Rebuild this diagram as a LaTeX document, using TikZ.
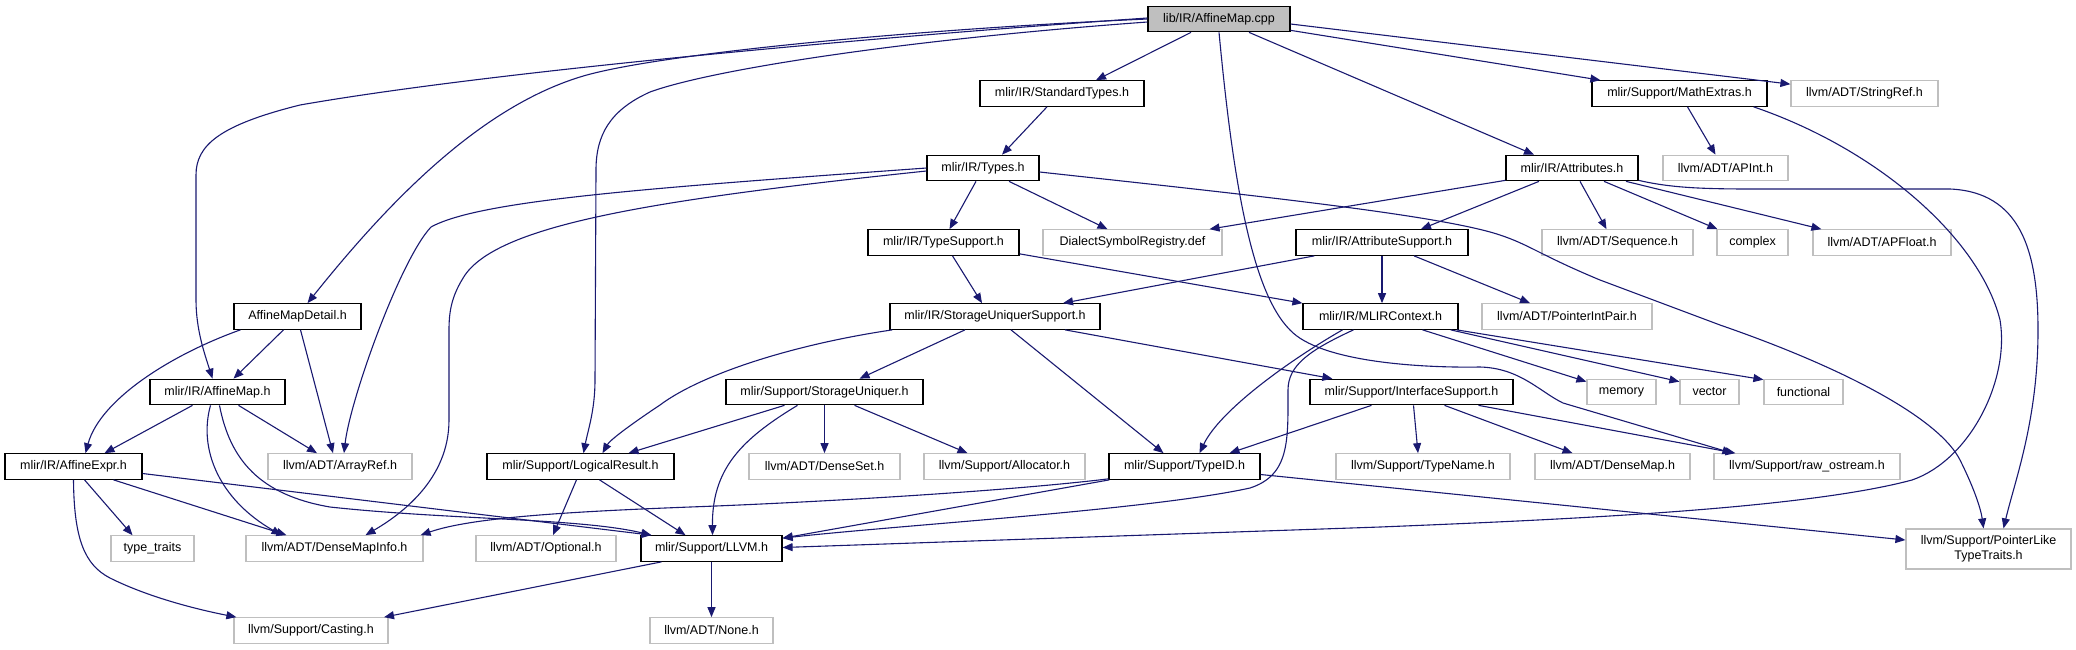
\documentclass[tikz,border=0pt]{standalone}
\usepackage{fontspec}
\setmainfont{Liberation Sans}
\usetikzlibrary{arrows.meta}
\definecolor{edgeblue}{RGB}{25,25,112}
\definecolor{boxgray}{RGB}{191,191,191}

\begin{document}
\begin{tikzpicture}[x=1pt,y=-1pt,
  file/.style={font=\fontsize{12.5}{15}\selectfont,inner sep=0pt,minimum height=25.5pt,line width=1.2pt,fill=white},
  hfile/.style={file,draw=black},
  extfile/.style={file,draw=boxgray},
  rootfile/.style={file,draw=black,fill=boxgray},
  dep/.style={edgeblue,line width=1.1pt,-{Triangle[length=10pt,width=8pt]}}]
  \useasboundingbox (0,0) rectangle (2076,649);

  % upper rows
  \node[rootfile,minimum width=142pt] (root) at (1219,19) {lib/IR/AffineMap.cpp};
  \node[hfile,minimum width=164pt] (stdtypes) at (1062,93.5) {mlir/IR/StandardTypes.h};
  \node[hfile,minimum width=175pt] (mathx) at (1679.5,93.5) {mlir/Support/MathExtras.h};
  \node[extfile,minimum width=147pt] (strref) at (1864.5,93.5) {llvm/ADT/StringRef.h};
  \node[hfile,minimum width=112pt] (types) at (983,168) {mlir/IR/Types.h};
  \node[hfile,minimum width=132pt] (attrs) at (1572,168) {mlir/IR/Attributes.h};
  \node[extfile,minimum width=125pt] (apint) at (1725.5,168) {llvm/ADT/APInt.h};
  \node[hfile,minimum width=151pt] (typesupp) at (943.5,242.5) {mlir/IR/TypeSupport.h};
  \node[extfile,minimum width=179pt] (dsr) at (1132.5,242.5) {DialectSymbolRegistry.def};
  \node[hfile,minimum width=172pt] (attrsupp) at (1382,242.5) {mlir/IR/AttributeSupport.h};
  \node[extfile,minimum width=151pt] (seq) at (1617.5,242.5) {llvm/ADT/Sequence.h};
  \node[extfile,minimum width=71pt] (complex) at (1752.5,242.5) {complex};
  \node[extfile,minimum width=138pt] (apfloat) at (1882,242.5) {llvm/ADT/APFloat.h};
  \node[hfile,minimum width=127pt] (amdetail) at (297.5,316.5) {AffineMapDetail.h};
  \node[hfile,minimum width=210pt] (sus) at (995,316.5) {mlir/IR/StorageUniquerSupport.h};
  \node[hfile,minimum width=155pt] (ctx) at (1380.5,316.5) {mlir/IR/MLIRContext.h};
  \node[extfile,minimum width=170pt] (pip) at (1567,316.5) {llvm/ADT/PointerIntPair.h};

  % lower rows
  \node[hfile,minimum width=135pt] (affmap) at (217.5,392) {mlir/IR/AffineMap.h};
  \node[hfile,minimum width=197pt] (su) at (824.5,392) {mlir/Support/StorageUniquer.h};
  \node[hfile,minimum width=203pt] (intf) at (1411.5,392) {mlir/Support/InterfaceSupport.h};
  \node[extfile,minimum width=69pt] (memory) at (1621.5,392) {memory};
  \node[extfile,minimum width=59pt] (vector) at (1709.5,392) {vector};
  \node[extfile,minimum width=79pt] (functional) at (1803.5,392) {functional};
  \node[hfile,minimum width=137pt] (affexpr) at (73.5,466.5) {mlir/IR/AffineExpr.h};
  \node[extfile,minimum width=144pt] (arrayref) at (340,466.5) {llvm/ADT/ArrayRef.h};
  \node[hfile,minimum width=187pt] (logres) at (580.5,466.5) {mlir/Support/LogicalResult.h};
  \node[extfile,minimum width=151pt] (denseset) at (824.5,466.5) {llvm/ADT/DenseSet.h};
  \node[extfile,minimum width=161pt] (alloc) at (1004.5,466.5) {llvm/Support/Allocator.h};
  \node[hfile,minimum width=151pt] (typeid) at (1184.5,466.5) {mlir/Support/TypeID.h};
  \node[extfile,minimum width=174pt] (typename) at (1423,466.5) {llvm/Support/TypeName.h};
  \node[extfile,minimum width=155pt] (densemap) at (1612.5,466.5) {llvm/ADT/DenseMap.h};
  \node[extfile,minimum width=186pt] (rawos) at (1807,466.5) {llvm/Support/raw\_ostream.h};
  \node[extfile,minimum width=83pt] (typetraits) at (152.5,548.5) {type\_traits};
  \node[extfile,minimum width=177pt] (dmi) at (334.5,548.5) {llvm/ADT/DenseMapInfo.h};
  \node[extfile,minimum width=140pt] (optional) at (546,548.5) {llvm/ADT/Optional.h};
  \node[hfile,minimum width=141pt] (llvmh) at (711.5,548.5) {mlir/Support/LLVM.h};
  \node[extfile,minimum width=165pt,minimum height=40pt,align=center] (pltt) at (1988.5,549) {llvm/Support/PointerLike\\TypeTraits.h};
  \node[extfile,minimum width=154pt] (casting) at (311,630.5) {llvm/Support/Casting.h};
  \node[extfile,minimum width=123pt] (none) at (711.5,630.5) {llvm/ADT/None.h};

  % includes of the .cpp file
  \draw[dep] ([xshift=-28pt]root.south) -- ([xshift=34pt]stdtypes.north);
  \draw[dep] ([yshift=2pt]root.south east) -- ([xshift=9pt]mathx.north west);
  \draw[dep] ([yshift=-5pt]root.east) -- ([yshift=-4pt]strref.north west);
  \draw[dep] ([xshift=30pt]root.south) -- ([xshift=-38pt]attrs.north);
  \draw[dep] (root.south) .. controls (1232,170) and (1250,290) .. (1290,330)
    .. controls (1320,362) and (1420,368) .. (1480,367)
    .. controls (1520,368) and (1540,392) .. (1563,403) -- ([xshift=19pt]rawos.north west);
  \draw[dep] ([yshift=1pt]root.west) .. controls (900,35) and (500,70) .. (300,105)
    .. controls (220,125) and (196,145) .. (196,175) -- (196,300)
    .. controls (196,330) and (205,355) .. ([xshift=-5pt]affmap.north);
  \draw[dep] (root.west) .. controls (900,30) and (650,55) .. (580,77)
    .. controls (480,108) and (390,200) .. ([xshift=10pt]amdetail.north);
  \draw[dep] ([yshift=-3pt]root.west) .. controls (900,40) and (710,70) .. (650,92)
    .. controls (610,110) and (596,135) .. (596,170) -- (595,380)
    .. controls (595,410) and (588,430) .. ([xshift=3pt]logres.north);

  % mlir/IR headers
  \draw[dep] ([xshift=-15pt]stdtypes.south) -- ([xshift=19pt]types.north);
  \draw[dep] ([xshift=-7pt]types.south) -- ([xshift=6pt]typesupp.north);
  \draw[dep] ([xshift=26pt]types.south) -- ([xshift=-25pt]dsr.north);
  \draw[dep] (types.west) .. controls (650,188) and (480,200) .. (431,227)
    .. controls (400,260) and (350,400) .. ([xshift=4pt]arrayref.north);
  \draw[dep] ([yshift=-3pt]types.west) .. controls (650,200) and (500,225) .. (465,275)
    .. controls (452,295) and (449,310) .. (449,330) -- (449,420)
    .. controls (449,480) and (400,515) .. ([xshift=31pt]dmi.north);
  \draw[dep] ([yshift=-4pt]types.east) .. controls (1250,195) and (1440,215) .. (1500,235)
    .. controls (1530,245) and (1540,255) .. (1600,280) -- (1720,325)
    .. controls (1850,370) and (1940,420) .. (1960,460)
    .. controls (1975,490) and (1981,510) .. ([xshift=-5pt]pltt.north);
  \draw[dep] ([yshift=1pt]attrs.south west) -- ([xshift=77pt]dsr.north);
  \draw[dep] ([xshift=-33pt]attrs.south) -- ([xshift=39pt]attrsupp.north);
  \draw[dep] ([xshift=8pt]attrs.south) -- ([xshift=-11pt]seq.north);
  \draw[dep] ([xshift=32pt]attrs.south) -- ([xshift=1pt]complex.north west);
  \draw[dep] ([xshift=54pt]attrs.south) -- ([xshift=9pt]apfloat.north west);
  \draw[dep] ([yshift=1pt]attrs.south east) .. controls (1680,190) and (1720,189) .. (1800,189) -- (1950,189)
    .. controls (2020,192) and (2038,250) .. (2038,330)
    .. controls (2038,420) and (2015,480) .. ([xshift=15pt]pltt.north);
  \draw[dep] ([xshift=8pt]mathx.south) -- ([xshift=-10pt]apint.north);
  \draw[dep] ([xshift=-14pt]mathx.south east) .. controls (1880,150) and (1980,240) .. (2000,320)
    .. controls (2010,380) and (1970,460) .. (1912,480)
    .. controls (1800,510) and (1550,520) .. (1380,527) -- ([yshift=1pt]llvmh.east);
  \draw[dep] ([xshift=19pt]attrsupp.south west) -- ([xshift=68pt]sus.north);
  \draw[dep] (attrsupp.south) -- ([xshift=1.5pt]ctx.north);
  \draw[dep] ([xshift=32pt]attrsupp.south) -- ([xshift=-37pt]pip.north);
  \draw[dep] ([xshift=9pt]typesupp.south) -- ([xshift=-13pt]sus.north);
  \draw[dep] ([yshift=2pt]typesupp.south east) -- (ctx.north west);

  % storage and context
  \draw[dep] ([xshift=3pt]sus.south west) .. controls (790,345) and (700,375) .. (660,405)
    .. controls (630,425) and (610,440) .. ([xshift=22pt]logres.north);
  \draw[dep] ([xshift=-30pt]sus.south) -- ([xshift=35pt]su.north);
  \draw[dep] ([xshift=16pt]sus.south) -- ([xshift=-21pt]typeid.north);
  \draw[dep] ([xshift=70pt]sus.south) -- ([xshift=23pt]intf.north west);
  \draw[dep] ([xshift=-38pt]ctx.south) .. controls (1290,360) and (1220,410) .. ([xshift=15pt]typeid.north);
  \draw[dep] ([xshift=-27pt]ctx.south) .. controls (1310,350) and (1288,365) .. (1288,390)
    .. controls (1288,440) and (1290,475) .. (1250,488)
    .. controls (1150,510) and (900,525) .. ([yshift=-3pt]llvmh.north east);
  \draw[dep] ([xshift=42pt]ctx.south) -- ([yshift=-3pt]memory.north west);
  \draw[dep] ([xshift=-8pt]ctx.south east) -- ([yshift=-3pt]vector.north west);
  \draw[dep] ([xshift=-2pt]ctx.south east) -- ([yshift=-1pt]functional.north west);
  \draw[dep] ([xshift=-40pt]su.south) -- ([xshift=48pt]logres.north);
  \draw[dep] ([xshift=-27pt]su.south) .. controls (740,440) and (712,470) .. ([xshift=1pt]llvmh.north);
  \draw[dep] (su.south) -- (denseset.north);
  \draw[dep] ([xshift=30pt]su.south) -- ([xshift=-37pt]alloc.north);
  \draw[dep] ([xshift=-40pt]intf.south) -- ([xshift=45pt]typeid.north);
  \draw[dep] ([xshift=2pt]intf.south) -- ([xshift=-5pt]typename.north);
  \draw[dep] ([xshift=33pt]intf.south) -- ([xshift=-40pt]densemap.north);
  \draw[dep] ([xshift=67pt]intf.south) -- ([xshift=22pt]rawos.north west);

  % support headers
  \draw[dep] ([yshift=1pt]typeid.south west) .. controls (1000,492) and (800,503) .. (690,507)
    .. controls (560,512) and (470,518) .. ([xshift=-3pt]dmi.north east);
  \draw[dep] ([xshift=1pt]typeid.south west) -- ([yshift=-3pt]llvmh.north east);
  \draw[dep] ([yshift=-8pt]typeid.east) -- ([yshift=9pt]pltt.west);
  \draw[dep] ([xshift=-4pt]logres.south) -- ([xshift=7pt]optional.north);
  \draw[dep] ([xshift=19pt]logres.south) -- ([xshift=-26pt]llvmh.north);
  \draw[dep] ([xshift=-50pt]llvmh.south) -- ([xshift=73pt]casting.north);
  \draw[dep] (llvmh.south) -- (none.north);

  % affine headers
  \draw[dep] ([xshift=7pt]amdetail.south west) .. controls (170,355) and (100,400) .. ([xshift=12pt]affexpr.north);
  \draw[dep] ([xshift=-14pt]amdetail.south) -- ([xshift=16pt]affmap.north);
  \draw[dep] ([xshift=3pt]amdetail.south) -- ([xshift=-7pt]arrayref.north);
  \draw[dep] ([xshift=-25pt]affmap.south) -- ([xshift=31pt]affexpr.north);
  \draw[dep] ([xshift=21pt]affmap.south) -- ([xshift=-23pt]arrayref.north);
  \draw[dep] ([xshift=-7pt]affmap.south) .. controls (198,450) and (220,500) .. ([xshift=-53pt]dmi.north);
  \draw[dep] ([xshift=2pt]affmap.south) .. controls (230,460) and (260,495) .. (330,507)
    .. controls (450,520) and (580,518) .. ([xshift=11pt]llvmh.north west);
  \draw[dep] ([xshift=11pt]affexpr.south) -- ([xshift=-20pt]typetraits.north);
  \draw[dep] ([xshift=40pt]affexpr.south) -- ([xshift=-48pt]dmi.north);
  \draw[dep] (affexpr.south) .. controls (74,540) and (85,565) .. (110,578)
    .. controls (150,598) and (200,610) .. ([xshift=3pt]casting.north west);
  \draw[dep] ([yshift=-7pt]affexpr.east) -- ([xshift=11pt]llvmh.north west);
\end{tikzpicture}
\end{document}
